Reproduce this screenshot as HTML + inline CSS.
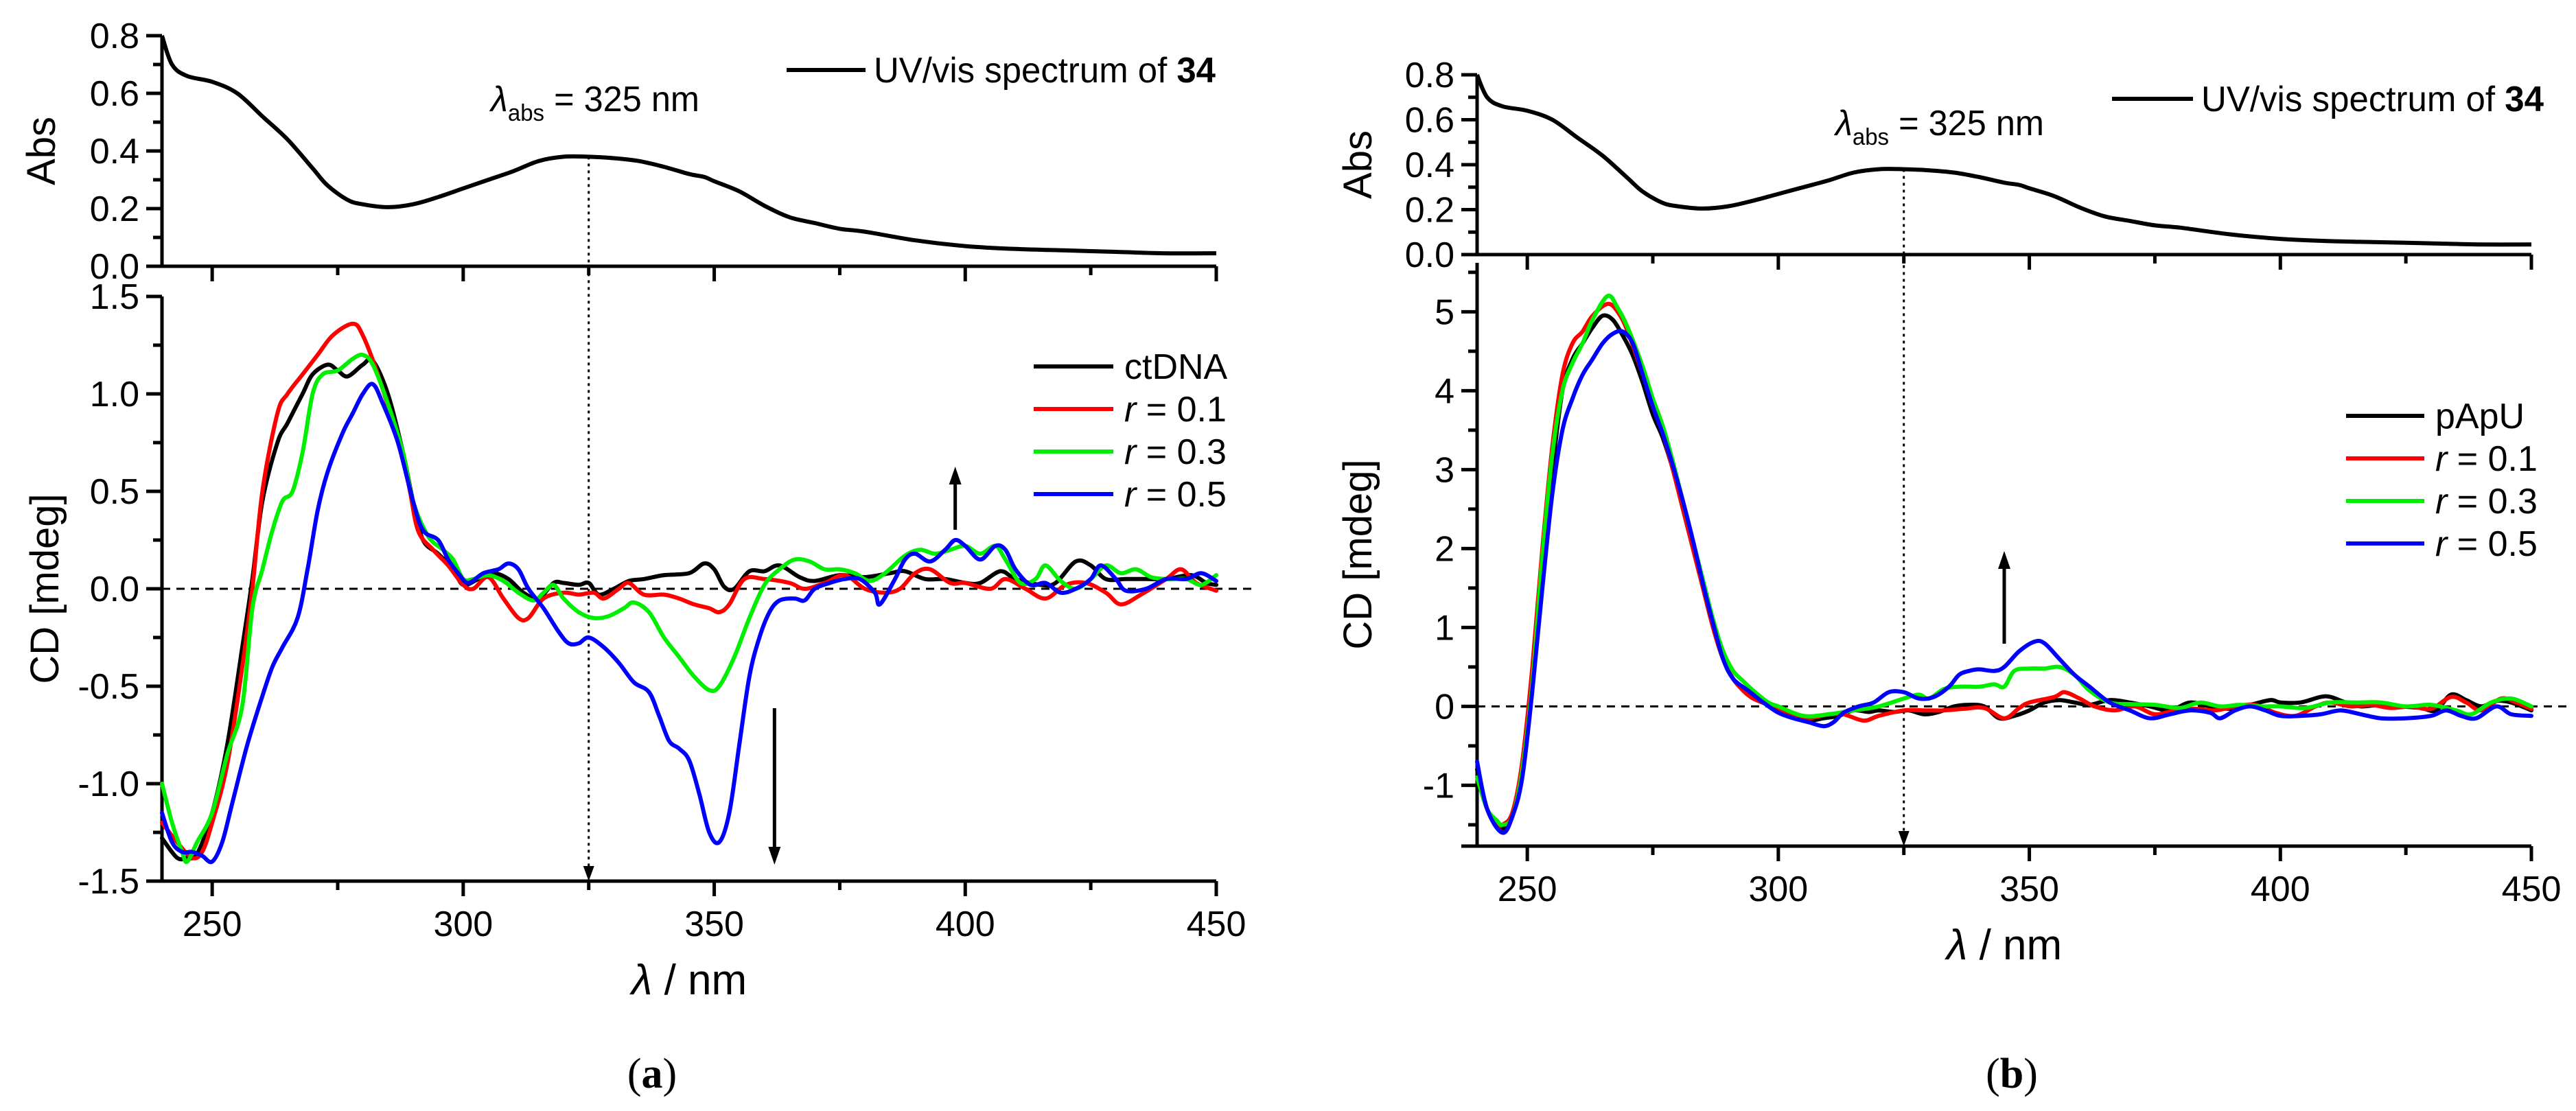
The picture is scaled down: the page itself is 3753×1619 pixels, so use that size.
<!DOCTYPE html>
<html><head><meta charset="utf-8">
<style>
html,body{margin:0;padding:0;background:#fff;}
svg{display:block;font-family:"Liberation Sans Narrow","Liberation Sans",Arial,sans-serif;}
</style></head>
<body>
<svg id="fig" width="3753" height="1619" viewBox="0 0 3753 1619" xmlns="http://www.w3.org/2000/svg"></svg>
<script>
// ---------- data ----------
const absX = [240,242,245,250,255,260,265,270,273,277,280,285,290,295,300,305,310,315,320,325,330,335,340,345,348,350,355,360,365,370,375,380,390,400,410,420,430,440,450];
const absY = [0.80,0.70,0.66,0.64,0.60,0.52,0.44,0.34,0.28,0.23,0.215,0.205,0.215,0.24,0.27,0.30,0.33,0.365,0.38,0.38,0.375,0.365,0.345,0.32,0.31,0.295,0.26,0.21,0.17,0.15,0.13,0.12,0.09,0.07,0.06,0.055,0.05,0.045,0.045];

const aBlackX=[240,243,245,247,250,253,256,258,260,263,265,268,270,273,275,277,280,282,285,288,290,292,295,298,300,303,306,309,312,315,318,320,323,325,327,330,333,336,340,345,348,350,352,354,357,360,363,367,370,375,380,385,388,392,396,400,403,407,410,415,418,422,425,428,432,436,440,445,448,450];
const aBlackY=[-1.28,-1.38,-1.38,-1.36,-1.15,-0.8,-0.3,0.05,0.45,0.75,0.85,1.0,1.1,1.15,1.12,1.09,1.15,1.17,1.0,0.7,0.45,0.25,0.18,0.1,0.02,0.05,0.08,0.05,-0.02,-0.05,0.03,0.03,0.02,0.03,-0.03,0.0,0.04,0.05,0.07,0.08,0.13,0.10,0.01,0.0,0.09,0.09,0.12,0.06,0.04,0.07,0.06,0.08,0.09,0.05,0.05,0.03,0.03,0.09,0.05,0.02,0.03,0.14,0.12,0.05,0.05,0.05,0.05,0.07,0.03,0.02];
const aRedX=[240,243,246,248,250,253,256,258,260,263,265,268,271,274,278,280,283,286,289,291,294,297,300,302,305,308,311,313,316,320,323,326,328,331,333,336,340,343,346,349,351,353,356,360,365,368,372,376,380,384,387,390,393,397,400,405,408,412,416,420,424,428,431,435,440,443,446,450];
const aRedY=[-1.2,-1.3,-1.38,-1.35,-1.2,-0.9,-0.4,0.0,0.5,0.9,1.0,1.1,1.2,1.3,1.36,1.3,1.1,0.85,0.55,0.3,0.2,0.12,0.02,0.0,0.06,-0.05,-0.15,-0.15,-0.05,-0.02,-0.03,-0.02,-0.05,0.0,0.03,-0.03,-0.03,-0.05,-0.08,-0.1,-0.12,-0.08,0.05,0.05,0.03,0.0,0.03,0.07,0.0,-0.02,0.0,0.08,0.1,0.03,0.03,0.0,0.05,0.0,-0.05,0.02,0.03,-0.02,-0.08,-0.03,0.05,0.1,0.03,-0.01];
const aGreenX=[240,242,244,245,247,250,253,256,258,260,262,264,266,268,270,272,275,278,280,282,285,288,290,293,296,298,300,302,305,308,311,314,316,318,320,323,326,329,332,334,337,340,343,346,349,351,354,357,360,363,366,369,372,375,378,381,384,388,391,394,397,400,403,406,408,411,414,416,419,422,425,428,431,434,437,440,444,447,450];
const aGreenY=[-1.0,-1.2,-1.35,-1.4,-1.3,-1.15,-0.85,-0.6,-0.1,0.1,0.3,0.45,0.5,0.7,1.0,1.1,1.12,1.18,1.2,1.15,0.95,0.7,0.45,0.27,0.2,0.15,0.05,0.05,0.07,0.04,-0.02,-0.06,-0.02,0.02,-0.05,-0.12,-0.15,-0.14,-0.1,-0.07,-0.12,-0.25,-0.35,-0.45,-0.52,-0.5,-0.35,-0.15,0.02,0.1,0.15,0.14,0.1,0.1,0.08,0.04,0.08,0.17,0.2,0.18,0.2,0.22,0.18,0.22,0.15,0.03,0.05,0.12,0.04,0.0,0.05,0.12,0.08,0.1,0.06,0.05,0.05,0.02,0.07];
const aBlueX=[240,242,244,246,248,250,252,254,257,260,262,264,267,269,271,273,276,278,280,282,284,287,290,292,295,297,299,301,304,307,309,311,313,316,319,321,323,325,328,331,334,337,339,341,343,345,347,349,351,353,355,357,359,361,363,366,368,370,373,376,379,382,383,386,388,390,393,396,398,400,403,406,408,410,413,416,419,422,425,427,430,432,436,440,444,447,450];
const aBlueY=[-1.15,-1.3,-1.35,-1.35,-1.37,-1.4,-1.3,-1.1,-0.8,-0.55,-0.4,-0.3,-0.15,0.1,0.4,0.6,0.8,0.9,1.0,1.05,0.95,0.75,0.45,0.3,0.25,0.15,0.08,0.03,0.08,0.1,0.13,0.1,0.0,-0.1,-0.22,-0.28,-0.28,-0.25,-0.3,-0.38,-0.48,-0.53,-0.65,-0.78,-0.82,-0.88,-1.05,-1.25,-1.3,-1.15,-0.8,-0.45,-0.25,-0.12,-0.06,-0.05,-0.06,0.0,0.03,0.05,0.05,-0.02,-0.08,0.05,0.15,0.18,0.14,0.2,0.25,0.22,0.15,0.22,0.2,0.1,0.02,0.03,-0.02,0.0,0.05,0.12,0.05,-0.01,0.0,0.05,0.05,0.08,0.04];

const bBlackX=[240,242,244,245,247,249,251,253,255,257,259,261,263,265,267,269,271,273,275,277,279,281,283,285,287,289,291,293,295,298,300,303,306,309,312,315,318,320,323,326,329,332,335,338,341,344,347,350,353,356,359,362,366,370,374,378,382,386,390,394,398,400,404,408,410,413,416,420,424,428,431,434,437,440,443,446,450];
const bBlackY=[-0.8,-1.3,-1.5,-1.55,-1.4,-0.8,0.3,1.8,3.0,4.0,4.4,4.6,4.8,4.95,4.9,4.7,4.45,4.1,3.7,3.4,3.0,2.5,2.0,1.5,1.0,0.6,0.35,0.2,0.1,0.02,-0.05,-0.12,-0.18,-0.15,-0.12,-0.05,-0.07,-0.05,-0.07,-0.05,-0.1,-0.07,0.0,0.02,0.0,-0.15,-0.12,-0.05,0.05,0.08,0.05,0.02,0.08,0.05,0.0,-0.05,0.05,0.0,-0.03,0.02,0.08,0.05,0.05,0.12,0.12,0.05,0.0,0.02,0.0,-0.02,-0.05,0.15,0.08,0.0,0.07,0.05,-0.05];
const bRedX=[240,242,244,245,247,249,251,253,255,257,259,261,263,266,268,270,273,275,277,279,281,283,285,287,289,291,293,295,298,300,303,306,310,313,317,320,325,329,333,337,341,345,348,350,355,357,360,363,367,371,375,379,383,387,391,395,399,403,407,410,414,418,422,426,430,434,437,440,444,447,450];
const bRedY=[-0.9,-1.3,-1.5,-1.5,-1.35,-0.7,0.5,2.0,3.3,4.2,4.6,4.75,4.95,5.1,5.0,4.75,4.2,3.8,3.45,3.0,2.5,2.0,1.5,1.0,0.6,0.35,0.2,0.1,0.02,-0.05,-0.12,-0.15,-0.1,-0.1,-0.18,-0.12,-0.05,-0.05,-0.05,-0.03,-0.02,-0.15,-0.02,0.05,0.12,0.18,0.1,0.0,-0.05,0.0,-0.1,-0.05,-0.03,-0.05,0.0,0.02,-0.08,-0.12,0.0,0.05,0.0,0.02,-0.02,0.0,-0.03,0.12,0.05,-0.05,0.1,0.05,-0.03];
const bGreenX=[240,242,244,245,247,249,251,253,255,257,259,261,263,266,268,270,273,275,277,279,281,283,285,287,289,291,293,295,298,300,305,310,315,320,325,328,330,333,336,340,343,345,347,350,353,356,359,362,366,370,375,380,384,388,392,396,400,405,410,415,420,425,430,435,438,442,446,450];
const bGreenY=[-0.9,-1.3,-1.45,-1.5,-1.4,-0.8,0.3,1.9,3.2,4.0,4.35,4.6,4.9,5.2,5.05,4.8,4.3,3.9,3.55,3.1,2.6,2.1,1.6,1.1,0.7,0.45,0.32,0.2,0.05,0.0,-0.12,-0.1,-0.05,0.0,0.1,0.15,0.1,0.22,0.25,0.25,0.28,0.25,0.45,0.48,0.48,0.5,0.4,0.2,0.05,0.03,0.02,-0.02,0.05,0.0,0.02,0.0,0.0,-0.02,0.05,0.05,0.05,0.0,0.02,-0.05,-0.1,0.05,0.1,0.0];
const bBlueX=[240,242,245,247,249,251,253,255,257,259,261,263,265,267,269,271,273,275,277,279,281,283,285,287,289,291,294,297,300,303,306,309,311,313,316,319,322,325,328,331,334,336,338,340,343,345,348,351,353,356,359,362,366,370,374,378,382,386,388,391,394,397,400,404,408,412,416,420,425,430,433,436,439,443,446,450];
const bBlueY=[-0.7,-1.3,-1.6,-1.4,-0.9,0.2,1.5,2.7,3.5,3.9,4.2,4.4,4.6,4.72,4.75,4.6,4.2,3.8,3.45,3.05,2.6,2.1,1.55,1.05,0.6,0.35,0.2,0.05,-0.08,-0.15,-0.2,-0.25,-0.2,-0.08,0.0,0.05,0.18,0.18,0.1,0.12,0.25,0.4,0.45,0.47,0.45,0.5,0.7,0.82,0.8,0.6,0.4,0.25,0.05,-0.05,-0.15,-0.1,-0.05,-0.08,-0.15,-0.05,0.0,-0.05,-0.12,-0.12,-0.1,-0.05,-0.1,-0.15,-0.15,-0.12,-0.05,-0.12,-0.15,0.0,-0.1,-0.12];

const xTicks=[250,300,350,400,450];
const absTicks=[0.0,0.2,0.4,0.6,0.8];
const cdTicksA=[-1.5,-1.0,-0.5,0.0,0.5,1.0,1.5];
const cdTicksB=[-1,0,1,2,3,4,5];
const legendLabelsA=["ctDNA","0.1","0.3","0.5"];
const legendLabelsB=["pApU","0.1","0.3","0.5"];
const seriesColors=["#000000","#ff0000","#00ee00","#0000ff"];

// ---------- helpers ----------
const NS="http://www.w3.org/2000/svg";
const svg=document.getElementById('fig');
function mk(tag,attrs,parent,text){const e=document.createElementNS(NS,tag);for(const k in attrs)e.setAttribute(k,attrs[k]);if(text!==undefined)e.textContent=text;(parent||svg).appendChild(e);return e;}
function lin(d0,d1,r0,r1){return v=>r0+(v-d0)*(r1-r0)/(d1-d0);}
function pathFrom(xs,ys,sx,sy){
  const P=xs.map((x,i)=>[sx(x),sy(ys[i])]);
  let d='M'+P[0][0].toFixed(1)+','+P[0][1].toFixed(1);
  for(let i=0;i<P.length-1;i++){
    const p0=P[i-1]||P[i],p1=P[i],p2=P[i+1],p3=P[i+2]||P[i+1];
    const c1=[p1[0]+(p2[0]-p0[0])/6,p1[1]+(p2[1]-p0[1])/6];
    const c2=[p2[0]-(p3[0]-p1[0])/6,p2[1]-(p3[1]-p1[1])/6];
    d+='C'+c1[0].toFixed(1)+','+c1[1].toFixed(1)+' '+c2[0].toFixed(1)+','+c2[1].toFixed(1)+' '+p2[0].toFixed(1)+','+p2[1].toFixed(1);
  }
  return d;}

function panel(cfg){
  const g=mk('g',{});
  
  
  const sx=lin(240,450,cfg.x0,cfg.x1);
  const sa=lin(0,0.8,cfg.aBot,cfg.aTop);
  const sc=lin(cfg.cMin,cfg.cMax,cfg.cBot,cfg.cTop);
  const fs=52;
  const axA=mk('g',{stroke:'#000','stroke-width':5,fill:'none'},g);
  
  
  mk('line',{x1:cfg.x0,y1:sa(0.8),x2:cfg.x0,y2:sa(0)},axA);
  mk('line',{x1:cfg.x0-23,y1:sa(0),x2:cfg.x1,y2:sa(0)},axA);
  for(let v=0;v<=0.801;v+=0.1){const maj=Math.round(v*10)%2===0;mk('line',{x1:cfg.x0-(maj?23:13),y1:sa(v),x2:cfg.x0,y2:sa(v)},axA);}
  for(let v=250;v<=450;v+=25){const maj=v%50===0;mk('line',{x1:sx(v),y1:sa(0),x2:sx(v),y2:sa(0)+(maj?22:13)},axA);}
  absTicks.forEach(v=>{const t=mk('text',{x:cfg.x0-33,y:sa(v)+18,'font-size':fs,'text-anchor':'end'},g,v.toFixed(1));
    });
  const at=mk('text',{x:0,y:0,'font-size':58,'text-anchor':'middle',transform:`translate(${cfg.absLblX},${(sa(0)+sa(0.8))/2}) rotate(-90)`},g,'Abs');
  
  const ac=mk('path',{d:pathFrom(absX,absY,sx,sa),stroke:'#000','stroke-width':6,fill:'none','stroke-linejoin':'round'},g);
  
  const al=mk('line',{x1:cfg.uvLeg[0],y1:cfg.uvLeg[2],x2:cfg.uvLeg[1],y2:cfg.uvLeg[2],stroke:'#000','stroke-width':6},g);
  
  const alt=mk('text',{x:cfg.uvLeg[1]+12,y:cfg.uvLeg[2]+18,'font-size':fs,textLength:cfg.uvLen,lengthAdjust:'spacingAndGlyphs'},g);
  
  mk('tspan',{},alt,'UV/vis spectrum of ');mk('tspan',{'font-weight':'bold'},alt,'34');
  const la=mk('text',{x:cfg.lamX,y:cfg.lamY,'font-size':fs,textLength:304,lengthAdjust:'spacingAndGlyphs'},g);
  
  mk('tspan',{'font-style':'italic'},la,'λ');mk('tspan',{'font-size':34,dy:14},la,'abs');mk('tspan',{dy:-14},la,' = 325 nm');

  const axC=mk('g',{stroke:'#000','stroke-width':5,fill:'none'},g);
  
  mk('line',{x1:cfg.x0,y1:cfg.cTop,x2:cfg.x0,y2:cfg.cBot},axC);
  mk('line',{x1:cfg.x0-23,y1:cfg.cBot,x2:cfg.x1,y2:cfg.cBot},axC);
  for(let v=cfg.cMinTick;v<=cfg.cMax+1e-6;v+=cfg.minor){const maj=Math.abs(Math.round(v/cfg.major)*cfg.major-v)<1e-6;mk('line',{x1:cfg.x0-(maj?23:13),y1:sc(v),x2:cfg.x0,y2:sc(v)},axC);}
  for(let v=250;v<=450;v+=25){const maj=v%50===0;mk('line',{x1:sx(v),y1:cfg.cBot,x2:sx(v),y2:cfg.cBot+(maj?22:13)},axC);}
  cfg.cdTicks.forEach(v=>{const t=mk('text',{x:cfg.x0-33,y:sc(v)+18,'font-size':fs,'text-anchor':'end'},g,cfg.fmt(v));
    });
  xTicks.forEach(v=>{const t=mk('text',{x:sx(v),y:cfg.cBot+80,'font-size':fs,'text-anchor':'middle'},g,String(v));
    });
  const ct=mk('text',{x:0,y:0,'font-size':58,'text-anchor':'middle',transform:`translate(${cfg.cdLblX},${(cfg.cTop+cfg.cBot)/2}) rotate(-90)`},g,'CD [mdeg]');
  
  const xt=mk('text',{x:(cfg.x0+cfg.x1)/2,y:cfg.cBot+165,'font-size':62,'text-anchor':'middle'},g);
  
  mk('tspan',{'font-style':'italic'},xt,'λ');mk('tspan',{},xt,' / nm');
  const zl=mk('line',{x1:cfg.x0,y1:sc(0),x2:cfg.zeroEnd,y2:sc(0),stroke:'#000','stroke-width':3,'stroke-dasharray':'12,9'},g);
  
  const dl=mk('line',{x1:sx(325),y1:sa(0.38),x2:sx(325),y2:cfg.cBot-10,stroke:'#000','stroke-width':3,'stroke-dasharray':'4,6'},g);
  
  const dh=mk('path',{d:`M${sx(325)-8},${cfg.cBot-22}L${sx(325)+8},${cfg.cBot-22}L${sx(325)},${cfg.cBot}Z`,fill:'#000'},g);
  
  cfg.series.forEach((s,i)=>{const p=mk('path',{d:pathFrom(s[0],s[1],sx,sc),stroke:seriesColors[i],'stroke-width':6,fill:'none','stroke-linejoin':'round','stroke-linecap':'round'},g);
    });
  cfg.legLabels.forEach((lb,i)=>{const y=cfg.legY0+i*62;
    const ln=mk('line',{x1:cfg.legX[0],y1:y,x2:cfg.legX[1],y2:y,stroke:seriesColors[i],'stroke-width':6},g);
    
    const t=mk('text',{x:cfg.legX[1]+16,y:y+18,'font-size':fs},g);
    
    if(i===0)t.textContent=lb;else{mk('tspan',{'font-style':'italic'},t,'r');mk('tspan',{},t,' = '+lb);}
  });
  cfg.arrows.forEach(a=>{const x=sx(a[0]);const y1=a[1],y2=a[2];const dir=y2>y1?1:-1;
    const ar=mk('g',{},g);
    mk('line',{x1:x,y1:y1,x2:x,y2:y2-dir*22,stroke:'#000','stroke-width':5},ar);
    mk('path',{d:`M${x-9},${y2-dir*26}L${x+9},${y2-dir*26}L${x},${y2}Z`,fill:'#000'},ar);});
  const cap=mk('text',{x:cfg.capX,y:1585,'font-size':62,'text-anchor':'middle','font-family':'"Liberation Serif",serif'},g);
  
  mk('tspan',{},cap,'(');mk('tspan',{'font-weight':'bold'},cap,cfg.cap);mk('tspan',{},cap,')');
}

panel({name:'panel-a-ctdna',x0:236,x1:1772,aTop:52,aBot:388,cMin:-1.5,cMax:1.5,cBot:1284,cTop:432,cMinTick:-1.5,minor:0.25,major:0.5,
  cdTicks:cdTicksA,fmt:v=>v.toFixed(1),absLblX:80,cdLblX:85,uvLeg:[1146,1261,102],uvLen:498,lamX:715,lamY:162,zeroEnd:1832,
  series:[[aBlackX,aBlackY],[aRedX,aRedY],[aGreenX,aGreenY],[aBlueX,aBlueY]],legLabels:legendLabelsA,legX:[1506,1622],legY0:534,
  arrows:[[362,1032,1260],[398,772,680]],capX:950,cap:'a'});
panel({name:'panel-b-papu',x0:2152,x1:3688,aTop:109,aBot:371,cMin:-1.77,cMax:5.62,cBot:1233,cTop:383,cMinTick:-1.5,minor:0.5,major:1,
  cdTicks:cdTicksB,fmt:v=>String(v),absLblX:1998,cdLblX:1998,uvLeg:[3077,3195,144],uvLen:499,lamX:2674,lamY:197,zeroEnd:3742,
  series:[[bBlackX,bBlackY],[bRedX,bRedY],[bGreenX,bGreenY],[bBlueX,bBlueY]],legLabels:legendLabelsB,legX:[3418,3532],legY0:606,
  arrows:[[345,938,803]],capX:2931,cap:'b'});
</script>
</body></html>
